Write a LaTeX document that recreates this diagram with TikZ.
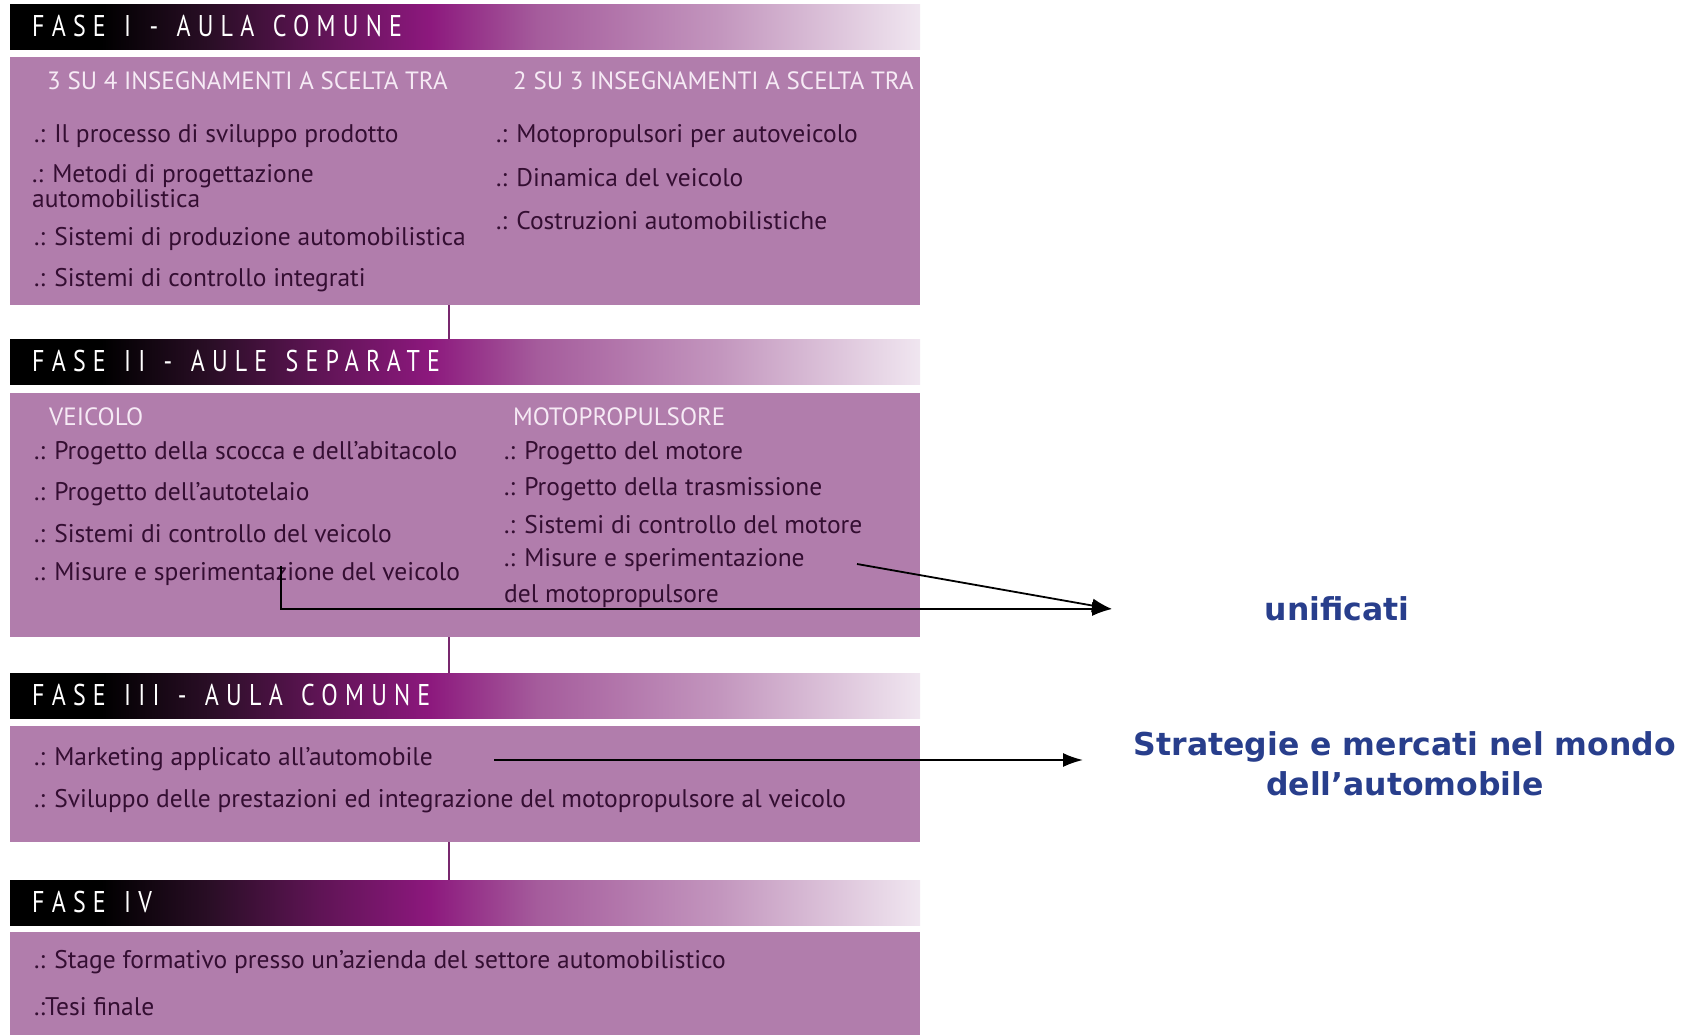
\documentclass[tikz,border=0pt]{standalone}
\usepackage{fontspec}
\usetikzlibrary{arrows.meta}
\setmainfont{PT Sans}
\newfontfamily\fasefont{PT Sans}[LetterSpace=24,FakeStretch=0.8,WordSpace=1.35]
\newfontfamily\capfont{PT Sans}
\newfontfamily\notefont{DejaVu Sans}

\definecolor{boxmauve}{RGB}{177,125,172}
\definecolor{boxtext}{RGB}{52,14,50}
\definecolor{capwhite}{RGB}{246,234,245}
\definecolor{linkpurple}{RGB}{120,40,110}
\definecolor{notenavy}{RGB}{40,62,140}
\definecolor{fasedark}{RGB}{42,14,38}
\definecolor{fasedeep}{RGB}{95,20,85}
\definecolor{fasemag}{RGB}{140,24,125}
\definecolor{fasemid}{RGB}{165,92,156}
\definecolor{faselight}{RGB}{195,150,190}
\definecolor{fasepale}{RGB}{240,230,240}

\pgfdeclarehorizontalshading{fasebar}{100bp}{color(0bp)=(black); color(25bp)=(black);
  color(30bp)=(black); color(36bp)=(fasedark); color(42bp)=(fasedeep); color(48bp)=(fasemag);
  color(54bp)=(fasemid); color(64bp)=(faselight); color(75bp)=(fasepale); color(100bp)=(fasepale)}

\begin{document}
\begin{tikzpicture}[x=1pt,y=-1pt,
  fasehead/.style={anchor=north west, shading=fasebar, minimum width=910, minimum height=45, inner sep=0},
  fasebox/.style={anchor=north west, fill=boxmauve, minimum width=910, inner sep=0},
  fasetitle/.style={anchor=west, text=white, inner sep=0, font=\fasefont\fontsize{30}{32}\selectfont},
  boxcap/.style={anchor=west, text=capwhite, inner sep=0, font=\capfont\fontsize{25}{28}\selectfont},
  item/.style={anchor=west, text=boxtext, inner sep=0, font=\fontsize{25.5}{29}\selectfont},
  link/.style={linkpurple, line width=2.5pt},
  note/.style={text=notenavy, font=\notefont\bfseries\fontsize{31.5}{40}\selectfont, align=center},
  notearrow/.style={line width=1.8pt, -{Latex[length=20pt,width=14pt]}}]
\useasboundingbox (0,0) rectangle (1684,1035);

% fase I
\node (fase1) at (10,4) [fasehead] {};
\node (fase1txt) at (32,26) [fasetitle] {FASE I - AULA COMUNE};
\node (box1) at (10,57) [fasebox, minimum height=248] {};
\node (cap1a) at (47,81) [boxcap] {3 SU 4 INSEGNAMENTI A SCELTA TRA};
\node (cap1b) at (513,81) [boxcap] {2 SU 3 INSEGNAMENTI A SCELTA TRA};
\node (it11) at (34,136) [item] {.: Il processo di sviluppo prodotto};
\node (it12) at (32,186) [item, align=left, font=\fontsize{25.5}{17}\selectfont] {.: Metodi di progettazione\\automobilistica};
\node (it13) at (34,239) [item] {.: Sistemi di produzione automobilistica};
\node (it14) at (34,280) [item] {.: Sistemi di controllo integrati};
\node (it15) at (496,136) [item] {.: Motopropulsori per autoveicolo};
\node (it16) at (496,178) [item] {.: Dinamica del veicolo};
\node (it17) at (496,221) [item] {.: Costruzioni automobilistiche};

% fase II
\node (fase2) at (10,339) [fasehead] {};
\node (fase2txt) at (32,361) [fasetitle] {FASE II - AULE SEPARATE};
\node (box2) at (10,393) [fasebox, minimum height=244] {};
\node (cap2a) at (49,417) [boxcap] {VEICOLO};
\node (cap2b) at (513,417) [boxcap] {MOTOPROPULSORE};
\node (it21) at (34,453) [item] {.: Progetto della scocca e dell’abitacolo};
\node (it22) at (34,494) [item] {.: Progetto dell’autotelaio};
\node (it23) at (34,534) [item] {.: Sistemi di controllo del veicolo};
\node (it24) at (34,574) [item] {.: Misure e sperimentazione del veicolo};
\node (it25) at (504,453) [item] {.: Progetto del motore};
\node (it26) at (504,489) [item] {.: Progetto della trasmissione};
\node (it27) at (504,525) [item] {.: Sistemi di controllo del motore};
\node (it28) at (504,560) [item] {.: Misure e sperimentazione};
\node (it29) at (504,596) [item] {del motopropulsore};

% fase III
\node (fase3) at (10,673) [fasehead] {};
\node (fase3txt) at (32,695) [fasetitle] {FASE III - AULA COMUNE};
\node (box3) at (10,726) [fasebox, minimum height=116] {};
\node (it31) at (34,759) [item] {.: Marketing applicato all’automobile};
\node (it32) at (34,801) [item] {.: Sviluppo delle prestazioni ed integrazione del motopropulsore al veicolo};

% fase IV
\node (fase4) at (10,880) [fasehead] {};
\node (fase4txt) at (32,902) [fasetitle] {FASE IV};
\node (box4) at (10,932) [fasebox, minimum height=103] {};
\node (it41) at (34,962) [item] {.: Stage formativo presso un’azienda del settore automobilistico};
\node (it42) at (34,1007) [item] {.:Tesi finale};

% links between the phases
\coordinate (l1) at (449,305);
\coordinate (l2) at (449,637);
\coordinate (l3) at (449,842);
\draw[link] (l1) -- (l1 |- fase2.north);
\draw[link] (l2) -- (l2 |- fase3.north);
\draw[link] (l3) -- (l3 |- fase4.north);

% notes on the right
\node (unif) at (1337,609) [note] {unificati};
\node (strat) at (1405,764) [note] {Strategie e mercati nel mondo\\dell’automobile};
\coordinate (vstart) at (281,566);
\coordinate (mstart) at (857,564);
\coordinate (unifin) at (1112,609);
\coordinate (mkstart) at (494,760);
\coordinate (stratin) at (1083,760);
\draw[notearrow] (vstart) |- (unifin);
\draw[notearrow] (mstart) -- (unifin);
\draw[notearrow] (mkstart) -- (stratin);
\end{tikzpicture}
\end{document}
